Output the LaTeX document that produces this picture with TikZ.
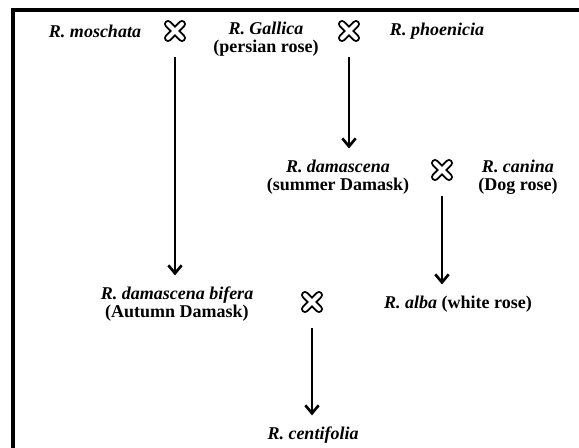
\documentclass[tikz,border=0pt]{standalone}
\usepackage{fontspec}
\setmainfont{Liberation Serif}
\usetikzlibrary{arrows.meta}

\tikzset{
  rose/.style={font=\fontsize{13.5}{13.5}\selectfont\bfseries, align=center},
  crossing/.style={minimum size=17pt, inner sep=0pt, path picture={
      \foreach \col/\wd in {black/6pt, white/3pt}
        \draw[\col, line width=\wd, line cap=round]
          ([shift={(-7,-7)}]path picture bounding box.center) -- ([shift={(7,7)}]path picture bounding box.center)
          ([shift={(-7,7)}]path picture bounding box.center) -- ([shift={(7,-7)}]path picture bounding box.center);
    }},
  descent/.style={-{Straight Barb[length=6pt,width=10pt]}, line width=2pt, shorten <=11pt, shorten >=5pt}
}

\begin{document}
\begin{tikzpicture}[x=0.75pt,y=-0.75pt]
      \useasboundingbox (0,0) rectangle (579,448);
      \draw[line width=2.4pt] (13,450) -- (13,10) -- (581,10);

      % first cross
      \node[rose] (moschata) at (95,31) {\textit{R. moschata}};
      \node[crossing] (cross1) at (175,31) {};
      \node[rose] (gallica) at (266,39) {\textit{R. Gallica}\\(persian rose)};
      \node[crossing] (cross2) at (349,31) {};
      \node[rose] (phoenicia) at (437,31) {\textit{R. phoenicia}};

      % second row
      \node[rose] (damascena) at (338,177) {\textit{R. damascena}\\(summer Damask)};
      \node[crossing] (cross3) at (442,170) {};
      \node[rose] (canina) at (518,177) {\textit{R. canina}\\(Dog rose)};

      % third row
      \node[rose] (bifera) at (177,304) {\textit{R. damascena bifera}\\(Autumn Damask)};
      \node[crossing] (cross4) at (312,302) {};
      \node[rose] (alba) at (458,304) {\textit{R. alba} (white rose)};
      \node[rose] (centifolia) at (313,435) {\textit{R. centifolia}};

      \draw[descent] (cross1.south) -- (cross1.south |- bifera.north);
      \draw[descent] (cross2.south) -- (cross2.south |- damascena.north);
      \draw[descent] (cross3.south) -- (cross3.south |- alba.north);
      \draw[descent] (cross4.south) -- (cross4.south |- centifolia.north);

    \end{tikzpicture}
\end{document}
